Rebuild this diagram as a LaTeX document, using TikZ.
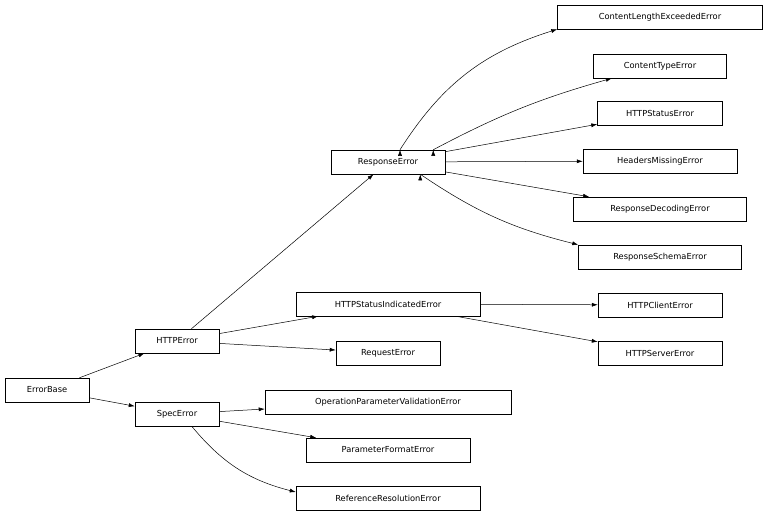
\documentclass[tikz,border=0pt]{standalone}
\usepackage{fontspec}
\setmainfont{DejaVu Sans}
\usetikzlibrary{arrows.meta}
\begin{document}
\begin{tikzpicture}[x=1pt,y=-1pt,
  cls/.style={draw,line width=0.5pt,inner sep=0pt,minimum height=24pt,font=\fontsize{8.3}{10}\selectfont},
  edge/.style={-{Latex[length=6pt,width=4pt]},line width=0.5pt}]
\useasboundingbox (0,0) rectangle (768,517);
\node[cls,minimum width=84pt] (eb) at (47,390) {ErrorBase};
\node[cls,minimum width=84pt] (he) at (177,341) {HTTPError};
\node[cls,minimum width=84pt] (se) at (177,414) {SpecError};
\node[cls,minimum width=114pt] (re) at (388,162) {ResponseError};
\node[cls,minimum width=184pt] (hsi) at (388,304) {HTTPStatusIndicatedError};
\node[cls,minimum width=104pt] (rq) at (388,353) {RequestError};
\node[cls,minimum width=246pt] (op) at (388,402) {OperationParameterValidationError};
\node[cls,minimum width=164pt] (pf) at (388,450) {ParameterFormatError};
\node[cls,minimum width=184pt] (rr) at (388,498) {ReferenceResolutionError};
\node[cls,minimum width=205pt] (cl) at (660,17) {ContentLengthExceededError};
\node[cls,minimum width=133pt] (ct) at (660,66) {ContentTypeError};
\node[cls,minimum width=125pt] (hs) at (660,113) {HTTPStatusError};
\node[cls,minimum width=154pt] (hm) at (660,161) {HeadersMissingError};
\node[cls,minimum width=173pt] (rd) at (660,209) {ResponseDecodingError};
\node[cls,minimum width=163pt] (rs) at (660,257) {ResponseSchemaError};
\node[cls,minimum width=124pt] (hc) at (660,305) {HTTPClientError};
\node[cls,minimum width=124pt] (hsv) at (660,353) {HTTPServerError};
\draw[edge] (eb) -- (he);
\draw[edge] (eb) -- (se);
\draw[edge] (he) -- (re);
\draw[edge] (he) -- (hsi);
\draw[edge] (he) -- (rq);
\draw[edge] (se) -- (op);
\draw[edge] (se) -- (pf);
\draw[edge] (se) to[bend right=18] (rr);
\draw[edge] (re.north) ++(12,0) coordinate (r1);
\draw[edge] (r1) to[bend left=20] (cl.south west);
\draw[edge] (re.north east) ++(-12,0) coordinate (r2);
\draw[edge] (r2) to[bend left=6] (ct);
\draw[edge] (re) -- (hs);
\draw[edge] (re) -- (hm);
\draw[edge] (re) -- (rd);
\draw[edge] (re.south east) ++(-25,0) coordinate (r3);
\draw[edge] (r3) to[bend right=10] (rs.north west);
\draw[edge] (hsi) -- (hc);
\draw[edge] (hsi) -- (hsv);
\end{tikzpicture}
\end{document}
